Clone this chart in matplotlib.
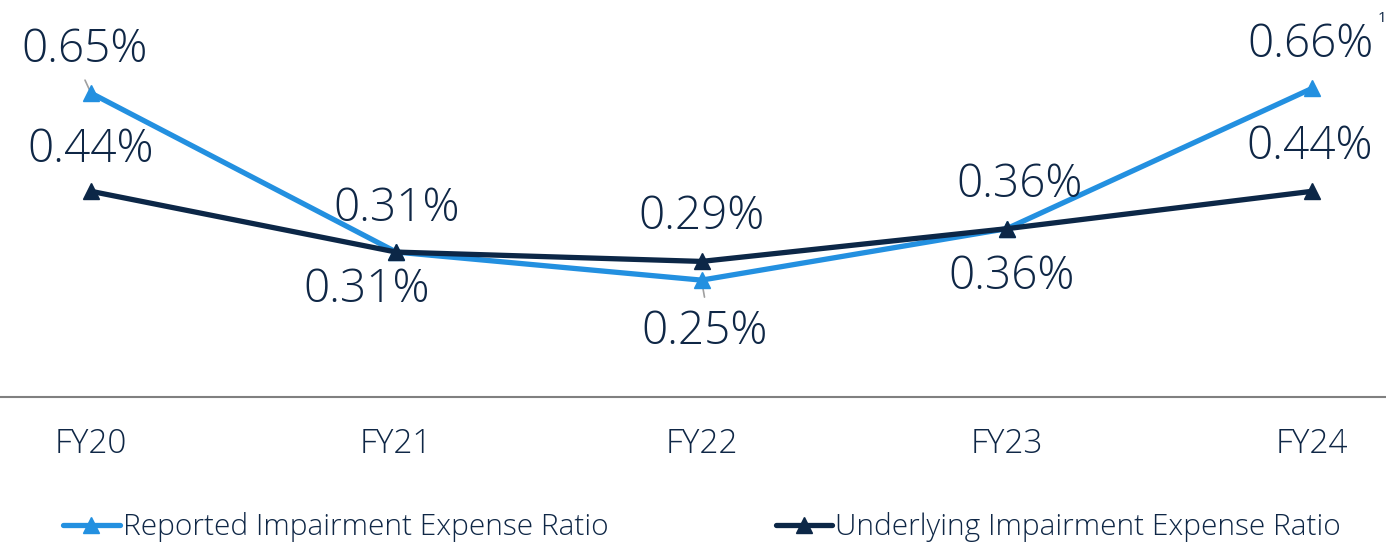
import matplotlib
matplotlib.use("Agg")
import matplotlib.pyplot as plt

categories = ["FY20", "FY21", "FY22", "FY23", "FY24"]
reported = [0.65, 0.31, 0.25, 0.36, 0.66]
underlying = [0.44, 0.31, 0.29, 0.36, 0.44]
reported_labels = ["0.65%", "0.31%", "0.25%", "0.36%", "0.66%"]
underlying_labels = ["0.44%", "0.31%", "0.29%", "0.36%", "0.44%"]

# label offsets in pixels (dx, dy)
rep_off = [(-6, 43), (-30, -38), (3, -52), (5, -48), (-2, 43)]
und_off = [(0, 41), (0, 43), (0, 44), (13, 44), (-2, 44)]

FONT = "Open Sans"
plt.rcParams['font.family'] = [FONT, 'DejaVu Sans']
TXT = "#0f2746"
C_REP = "#2390e0"
C_UND = "#0c2747"

W, H = 1386, 546
fig = plt.figure(figsize=(W / 100, H / 100), dpi=100)
ax = fig.add_axes([0, 1 - 397 / H, 1, 397 / H])

x = list(range(len(categories)))
ax.plot(x, reported, color=C_REP, lw=3.8, marker="^", ms=11, solid_joinstyle="miter",
        solid_capstyle="round", label="Reported Impairment Expense Ratio", zorder=3)
ax.plot(x, underlying, color=C_UND, lw=3.8, marker="^", ms=11, solid_joinstyle="miter",
        solid_capstyle="round", label="Underlying Impairment Expense Ratio", zorder=4)

ax.set_xlim(-91 / 305.25, (W - 91) / 305.25)
ax.set_ylim(0, 397 / 467.5)

for i in x:
    ax.annotate(reported_labels[i], (i, reported[i]), xytext=rep_off[i], textcoords="offset pixels",
                ha="center", va="center", fontsize=33, color=TXT, fontweight="light")
    ax.annotate(underlying_labels[i], (i, underlying[i]), xytext=und_off[i], textcoords="offset pixels",
                ha="center", va="center", fontsize=33, color=TXT, fontweight="light")

# leader lines
ax.annotate("", (0, reported[0]), xytext=(-6, 13), textcoords="offset pixels",
            arrowprops=dict(arrowstyle="-", color="#a0a0a0", lw=1.2, shrinkA=0, shrinkB=0), zorder=2)
ax.annotate("", (2, reported[2]), xytext=(3, -17), textcoords="offset pixels",
            arrowprops=dict(arrowstyle="-", color="#a0a0a0", lw=1.2, shrinkA=0, shrinkB=0), zorder=2)

fig.text(1382 / W, 1 - 18 / H, "1", fontsize=11, color=TXT, ha="center", va="center")

for s in ["top", "left", "right"]:
    ax.spines[s].set_visible(False)
ax.spines["bottom"].set_color("#808080")
ax.spines["bottom"].set_linewidth(1.5)
ax.set_yticks([])
ax.set_xticks(x)
ax.set_xticklabels(categories, fontsize=24, color=TXT, fontweight="light")
ax.tick_params(axis="x", length=0, pad=22)

handles, labels = ax.get_legend_handles_labels()
fig.legend(handles, labels, loc="center left", bbox_to_anchor=(63 / W, 1 - 527 / H),
           ncol=2, frameon=False, prop=dict(size=21.5, weight="light"), handlelength=1.9,
           handletextpad=0.1, columnspacing=5.6, borderpad=0, borderaxespad=0,
           labelcolor=TXT, numpoints=1)

fig.savefig("out.png", dpi=100)
